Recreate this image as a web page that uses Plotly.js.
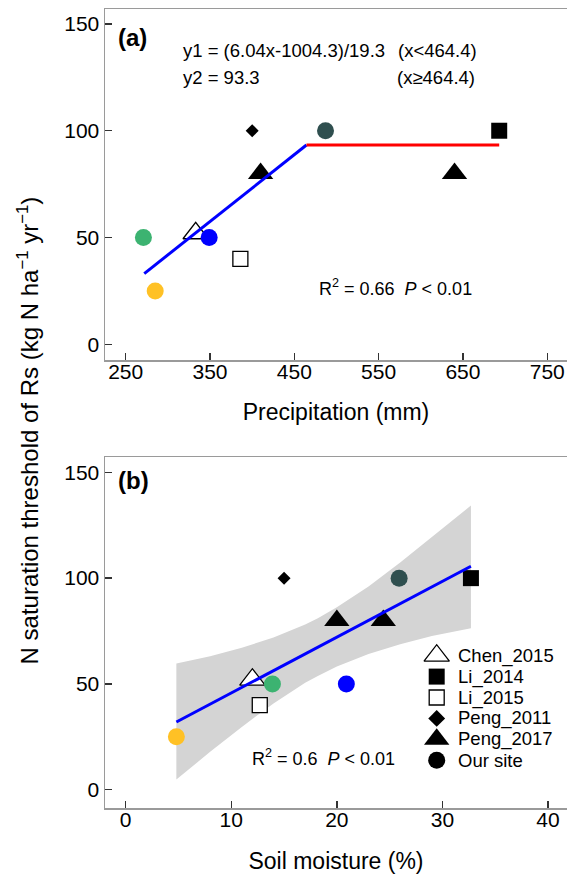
<!DOCTYPE html>
<html>
<head>
<meta charset="utf-8">
<script src="https://cdn.plot.ly/plotly-3.0.1.min.js"></script>
<style>html,body{margin:0;padding:0;background:#fff;}#chart{width:567px;height:875px;}</style>
</head>
<body>
<div id="chart"></div>
<script>
// ---------- data ----------
// Panel (a): precipitation (mm)
const precipChen2015 = [333];      const nChen2015 = [52];
const precipLi2014 = [693];        const nLi2014 = [100];
const precipLi2015 = [386];        const nLi2015 = [40];
const precipPeng2011 = [400];      const nPeng2011 = [100];
const precipPeng2017 = [410, 640]; const nPeng2017 = [80, 80];
const precipOurSite = [271, 285, 349, 487];
const nOurSite = [50, 25, 50, 100];
const ourSiteColors = ['#3CB371', '#FFC125', '#0000FF', '#2F4F4F'];

// piecewise fit segments (panel a)
const fit1X = [272, 464.4];   const fit1Y = [33.1, 93.3];
const fit2X = [464.4, 693];   const fit2Y = [93.3, 93.3];

// Panel (b): soil moisture (%)
const soilChen2015 = [12.0];
const soilLi2014 = [32.7];
const soilLi2015 = [12.7];
const soilPeng2011 = [15.0];
const soilPeng2017 = [20.0, 24.4];
const soilOurSite = [13.9, 4.8, 20.9, 25.9];

// linear fit and confidence band (panel b)
const lmX = [4.8, 32.7];      const lmY = [32.0, 105.6];
const bandX     = [4.8, 8, 11, 14, 17, 18.2, 20, 23, 26, 29, 32.7];
const bandUpper = [59.6, 63.1, 67.1, 71.9, 78.1, 81.0, 86.2, 96.1, 107.4, 119.4, 134.3];
const bandLower = [4.8, 17.9, 29.7, 40.8, 50.5, 53.8, 58.2, 64.1, 68.7, 72.6, 76.3];

// axis ticks
const yTicks = [0, 50, 100, 150];
const precipTicks = [250, 350, 450, 550, 650, 750];
const soilTicks = [0, 10, 20, 30, 40];

// legend
const legendLabels = ['Chen_2015', 'Li_2014', 'Li_2015', 'Peng_2011', 'Peng_2017', 'Our site'];
const legendSymbols = ['triangle-up', 'square', 'square', 'diamond', 'triangle-up', 'circle'];
const legendFills = ['#ffffff', '#000000', '#ffffff', '#000000', '#000000', '#000000'];
const legendSizes = [22, 16, 15, 13, 22, 17];

// ---------- styles ----------
const FONT = 'Liberation Sans, Arial, sans-serif';
const styles = {
  chen:   {symbol: 'triangle-up', size: 22, color: '#ffffff', line: {color: '#000', width: 1.3}},
  li2014: {symbol: 'square', size: 16, color: '#000000', line: {width: 0}},
  li2015: {symbol: 'square', size: 15, color: '#ffffff', line: {color: '#000', width: 1.3}},
  peng11: {symbol: 'diamond', size: 10, color: '#000000', line: {width: 0}},
  peng17: {symbol: 'triangle-up', size: 22, color: '#000000', line: {width: 0}},
  ours:   {symbol: 'circle', size: 17, color: ourSiteColors, line: {width: 0}}
};

function pts(x, y, st, xa, ya, name) {
  return {type: 'scatter', mode: 'markers', x: x, y: y, xaxis: xa, yaxis: ya,
          name: name, showlegend: false, hoverinfo: 'skip', cliponaxis: false,
          marker: {symbol: st.symbol, size: st.size, color: st.color, line: st.line, opacity: 1}};
}

const traces = [];
// panel b band (drawn first)
traces.push({type: 'scatter', mode: 'lines', x: bandX, y: bandLower, xaxis: 'x2', yaxis: 'y2',
  line: {width: 0}, showlegend: false, hoverinfo: 'skip'});
traces.push({type: 'scatter', mode: 'lines', x: bandX, y: bandUpper, xaxis: 'x2', yaxis: 'y2',
  line: {width: 0}, fill: 'tonexty', fillcolor: '#D4D4D4', showlegend: false, hoverinfo: 'skip'});

// panel a markers
traces.push(pts(precipChen2015, nChen2015, styles.chen, 'x', 'y', 'Chen_2015'));
traces.push(pts(precipLi2014, nLi2014, styles.li2014, 'x', 'y', 'Li_2014'));
traces.push(pts(precipLi2015, nLi2015, styles.li2015, 'x', 'y', 'Li_2015'));
traces.push(pts(precipPeng2011, nPeng2011, styles.peng11, 'x', 'y', 'Peng_2011'));
traces.push(pts(precipPeng2017, nPeng2017, styles.peng17, 'x', 'y', 'Peng_2017'));
traces.push(pts(precipOurSite, nOurSite, styles.ours, 'x', 'y', 'Our site'));
// panel a fit lines
traces.push({type: 'scatter', mode: 'lines', x: fit1X, y: fit1Y, xaxis: 'x', yaxis: 'y',
  line: {color: '#0000FF', width: 3}, showlegend: false, hoverinfo: 'skip'});
traces.push({type: 'scatter', mode: 'lines', x: fit2X, y: fit2Y, xaxis: 'x', yaxis: 'y',
  line: {color: '#FF0000', width: 3}, showlegend: false, hoverinfo: 'skip'});

// panel b markers
traces.push(pts(soilChen2015, nChen2015, styles.chen, 'x2', 'y2', 'Chen_2015'));
traces.push(pts(soilLi2014, nLi2014, styles.li2014, 'x2', 'y2', 'Li_2014'));
traces.push(pts(soilLi2015, nLi2015, styles.li2015, 'x2', 'y2', 'Li_2015'));
traces.push(pts(soilPeng2011, nPeng2011, styles.peng11, 'x2', 'y2', 'Peng_2011'));
traces.push(pts(soilPeng2017, nPeng2017, styles.peng17, 'x2', 'y2', 'Peng_2017'));
traces.push(pts(soilOurSite, nOurSite, styles.ours, 'x2', 'y2', 'Our site'));
// panel b fit line
traces.push({type: 'scatter', mode: 'lines', x: lmX, y: lmY, xaxis: 'x2', yaxis: 'y2',
  line: {color: '#0000FF', width: 3}, showlegend: false, hoverinfo: 'skip'});

// legend keys on a pixel-coordinate helper axis pair (x3/y3) covering the whole plot area
const LEG_X = 436.7, LEG_TOP = 655.7, LEG_STEP = 20.9, LEG_TEXT_X = 456;
const legRowsY = legendLabels.map((_, i) => LEG_TOP + i * LEG_STEP);
legendLabels.forEach((lab, i) => {
  const open = legendFills[i] === '#ffffff';
  traces.push({type: 'scatter', mode: 'markers', x: [LEG_X], y: [legRowsY[i]],
    xaxis: 'x3', yaxis: 'y3', name: lab, showlegend: false, hoverinfo: 'skip', cliponaxis: false,
    marker: {symbol: legendSymbols[i], size: legendSizes[i], color: legendFills[i], opacity: 1,
             line: {color: '#000000', width: open ? 1.3 : 0}}});
});

const axisCommon = {
  showgrid: false, zeroline: false, showline: true, linecolor: '#9a9a9a', linewidth: 1.5,
  ticks: 'inside', ticklen: 7, tickwidth: 1.5, tickcolor: '#333',
  tickfont: {family: FONT, size: 21, color: '#000'}, fixedrange: true
};

const annotations = [];
function txt(x, y, text, size, extra) {
  annotations.push(Object.assign({xref: 'x3', yref: 'y3', x: x, y: y, text: text, showarrow: false,
    xanchor: 'left', yanchor: 'middle', font: {family: FONT, size: size, color: '#000'}}, extra || {}));
}
txt(116, 37, '<b>(a)</b>', 24);
txt(116, 480, '<b>(b)</b>', 24);
txt(181, 50, 'y1 = (6.04x-1004.3)/19.3', 18.5);
txt(396, 50, '(x&lt;464.4)', 18.5);
txt(181, 77, 'y2 = 93.3', 18.5);
txt(395, 77, '(x≥464.4)', 18.5);
txt(317, 287, 'R<sup>2</sup> = 0.66&nbsp;&nbsp;<i>P</i> &lt; 0.01', 18);
txt(250, 757, 'R<sup>2</sup> = 0.6&nbsp;&nbsp;<i>P</i> &lt; 0.01', 18);
legendLabels.forEach((lab, i) => txt(LEG_TEXT_X, legRowsY[i], lab, 18.5));
annotations.push({xref: 'paper', yref: 'paper', x: -0.1667, y: 0.4725, textangle: -90,
  text: 'N saturation threshold of Rs (kg N ha<sup>−1</sup> yr<sup>−1</sup>)', showarrow: false,
  xanchor: 'center', yanchor: 'middle', font: {family: FONT, size: 24, color: '#000'}});

const layout = {
  width: 567, height: 875,
  margin: {l: 105, r: 0, t: 9, b: 67},
  paper_bgcolor: '#fff', plot_bgcolor: 'rgba(0,0,0,0)',
  showlegend: false,
  font: {family: FONT, color: '#000'},
  xaxis: Object.assign({}, axisCommon, {domain: [0, 1], anchor: 'y', range: [225.45, 773.4],
    tickvals: precipTicks, mirror: true, ticklabelstandoff: -8,
    title: {text: 'Precipitation (mm)', font: {family: FONT, size: 23, color: '#000'}, standoff: 22}}),
  yaxis: Object.assign({}, axisCommon, {domain: [0.5607, 1], anchor: 'x', range: [-7.35, 157.0],
    tickvals: yTicks}),
  xaxis2: Object.assign({}, axisCommon, {domain: [0, 1], anchor: 'y2', range: [-1.96, 41.8],
    tickvals: soilTicks, mirror: true, ticklabelstandoff: -8,
    title: {text: 'Soil moisture (%)', font: {family: FONT, size: 23, color: '#000'}, standoff: 23}}),
  yaxis2: Object.assign({}, axisCommon, {domain: [0, 0.4389], anchor: 'x2', range: [-8.64, 157.1],
    tickvals: yTicks}),
  xaxis3: {domain: [0, 1], range: [105, 567], visible: false, fixedrange: true, anchor: 'y3'},
  yaxis3: {domain: [0, 1], range: [808, 9], visible: false, fixedrange: true, anchor: 'x3'},
  annotations: annotations
};

Plotly.newPlot('chart', traces, layout, {staticPlot: true, displayModeBar: false});
</script>
</body>
</html>
